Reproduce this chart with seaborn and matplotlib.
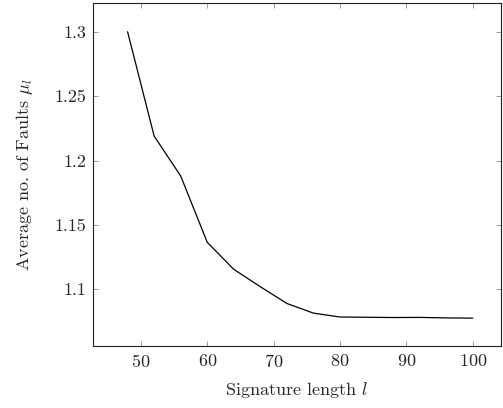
import matplotlib
matplotlib.use("Agg")
import matplotlib.pyplot as plt
import seaborn as sns
import pandas as pd

# Signature length vs average number of faults
sig_length = [48, 52, 56, 60, 64, 68, 72, 76, 80, 84, 88, 92, 96, 100]
avg_faults = [1.300, 1.219, 1.188, 1.1365, 1.1155, 1.102, 1.089, 1.0815,
              1.0785, 1.0783, 1.0781, 1.0782, 1.0778, 1.0776]

df = pd.DataFrame({"l": sig_length, "mu": avg_faults})

sns.set_style("ticks")
plt.rcParams["font.family"] = ["cmr10", "DejaVu Serif"]
plt.rcParams["mathtext.fontset"] = "cm"
plt.rcParams["axes.formatter.use_mathtext"] = True

fig = plt.figure(figsize=(5.03, 4.08), dpi=100)
ax = fig.add_axes([0.185, 0.152, 0.8104, 0.8406])

sns.lineplot(data=df, x="l", y="mu", ax=ax, color="black", linewidth=0.9)

ax.set_xlim(42.8, 104.2)
ax.set_ylim(1.056, 1.3223)
ax.set_xticks([50, 60, 70, 80, 90, 100])
ax.set_yticks([1.1, 1.15, 1.2, 1.25, 1.3])
ax.set_yticklabels(["1.1", "1.15", "1.2", "1.25", "1.3"])

ax.tick_params(direction="in", top=True, right=True, length=3.5, width=0.5,
               color="#777777", labelsize=13, pad=5)
for s in ax.spines.values():
    s.set_linewidth(0.8)
    s.set_color("#222222")

ax.set_xlabel(r"Signature length $l$", fontsize=13, labelpad=7)
ax.set_ylabel(r"Average no. of Faults $\mu_l$", fontsize=13, labelpad=14)

fig.savefig("out.png", dpi=100)
